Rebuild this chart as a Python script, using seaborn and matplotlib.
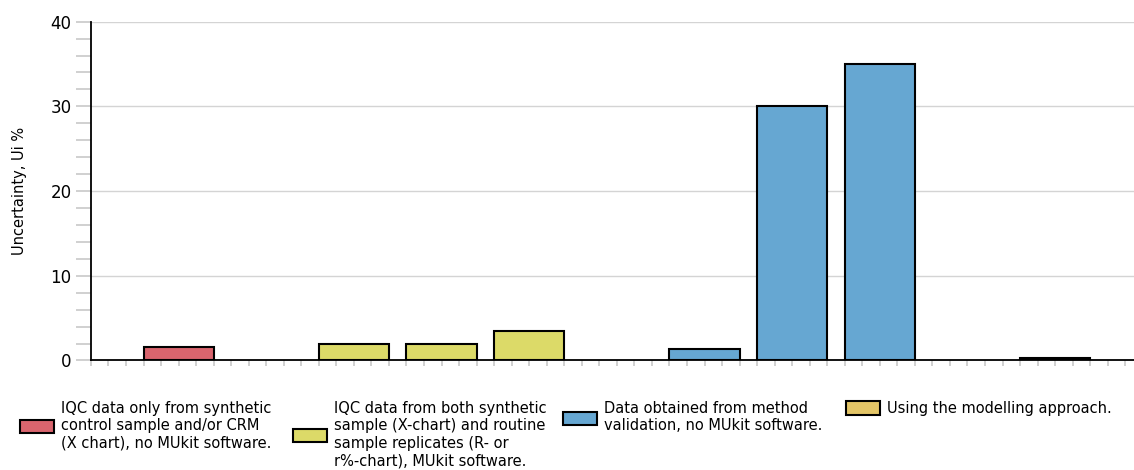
import matplotlib
matplotlib.use("Agg")
import matplotlib.pyplot as plt
from matplotlib.ticker import MultipleLocator, NullFormatter
import pandas as pd
import seaborn as sns

# Uncertainty per laboratory slot, grouped by how it was estimated
slots = [1, 3, 4, 5, 7, 8, 9, 11]
uncertainty = [1.6, 2.0, 2.0, 3.5, 1.3, 30.0, 35.0, 0.25]
group_order = [
    "IQC data only from synthetic\ncontrol sample and/or CRM\n(X chart), no MUkit software.",
    "IQC data from both synthetic\nsample (X-chart) and routine\nsample replicates (R- or\nr%-chart), MUkit software.",
    "Data obtained from method\nvalidation, no MUkit software.",
    "Using the modelling approach.",
]
group_index = [0, 1, 1, 1, 2, 2, 2, 3]
group_colors = ["#d9656e", "#dcda68", "#66a7d2", "#e3c567"]
y_label = "Uncertainty, Ui %"

df = pd.DataFrame({
    "slot": slots,
    "value": uncertainty,
    "group": [group_order[i] for i in group_index],
})

sns.set_theme(style="white")
plt.rcParams["font.family"] = ["DejaVu Sans"]
plt.rcParams["text.color"] = "black"
plt.rcParams["axes.labelcolor"] = "black"
plt.rcParams["ytick.color"] = "black"
plt.rcParams["xtick.color"] = "black"

fig = plt.figure(figsize=(11.34, 4.70), dpi=100)
ax = fig.add_axes([0.0802, 0.233, 0.9198, 0.721])

sns.barplot(
    data=df, x="slot", y="value", hue="group", hue_order=group_order,
    palette=group_colors, native_scale=True, dodge=False, width=0.8,
    edgecolor="black", linewidth=1.5, saturation=1, ax=ax,
)

handles, labels = ax.get_legend_handles_labels()
if ax.get_legend() is not None:
    ax.get_legend().remove()

ax.set_xlim(0, 11.9)
ax.set_ylim(0, 40)
ax.yaxis.set_major_locator(MultipleLocator(10))
ax.yaxis.set_minor_locator(MultipleLocator(2))
ax.xaxis.set_major_locator(MultipleLocator(1))
ax.xaxis.set_minor_locator(MultipleLocator(0.2))
ax.xaxis.set_major_formatter(NullFormatter())
ax.set_xlabel("")
ax.set_ylabel(y_label, fontsize=10.5, labelpad=17, color="black")

ax.tick_params(axis="y", which="both", direction="out", length=11, width=1.2,
               color="#c8c8c8", labelcolor="black", labelsize=12, pad=3,
               left=True)
ax.tick_params(axis="x", which="both", direction="out", length=4, width=1.2,
               color="#c8c8c8", bottom=True)

ax.grid(axis="y", which="major", color="#d4d4d4", linewidth=1)
ax.set_axisbelow(True)
for side in ("top", "right"):
    ax.spines[side].set_visible(False)
for side in ("left", "bottom"):
    ax.spines[side].set_color("black")
    ax.spines[side].set_linewidth(1.3)

# One legend per group, laid out in a row beneath the plot
legend_x = [20, 293, 563, 846]
for h, lab, x in zip(handles, labels, legend_x):
    leg = fig.legend(
        [h], [lab], loc="upper left",
        bbox_to_anchor=(x / 1134, 1 - 401 / 470),
        frameon=False, fontsize=10.5, borderpad=0, borderaxespad=0,
        handlelength=2.3, handleheight=1.0, handletextpad=0.5,
    )
    for t in leg.get_texts():
        t.set_linespacing(1.2)
        t.set_color("black")

fig.savefig("out.png", dpi=100)
